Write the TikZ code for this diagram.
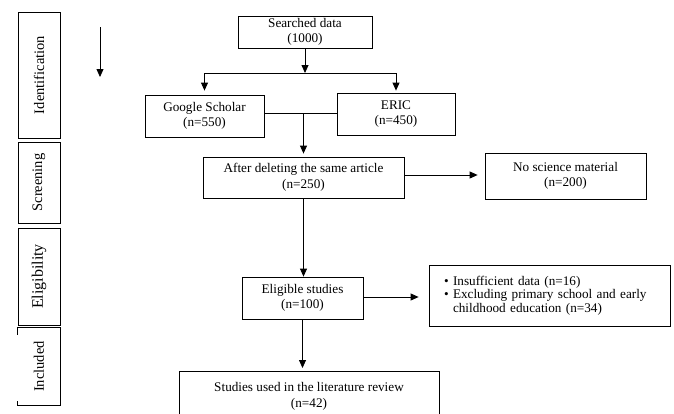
\documentclass[tikz,border=0pt]{standalone}
\usepackage{fontspec}
\setmainfont{Liberation Serif}
\usetikzlibrary{arrows.meta,positioning,calc}
\tikzset{
  stagebox/.style={draw,rectangle,line width=0.8pt,minimum width=42pt,inner sep=0pt,font=\fontsize{14.5}{15}\selectfont},
  flowbox/.style={draw,rectangle,line width=0.8pt,align=center,inner sep=0pt,font=\fontsize{13.2}{15.5}\selectfont},
  arr/.style={-{Triangle[length=8pt,width=7pt]},line width=0.8pt},
  ln/.style={line width=0.8pt}
}
\begin{document}
\begin{tikzpicture}[x=1pt,y=-1pt]
  \useasboundingbox (0,0) rectangle (674,413);
  \clip (0,0) rectangle (674,413);
  % Stage column
  \node[stagebox, minimum height=126pt] (ident) at (39,75) {\rotatebox{90}{Identification}};
  \node[stagebox, minimum height=81pt] (screen) at (39,182.5) {\rotatebox{90}{Screening}};
  \node[stagebox, minimum height=97pt, font=\fontsize{16}{17}\selectfont] (elig) at (39,276.5) {\rotatebox{90}{Eligibility}};
  \node[stagebox, draw=none, minimum height=77pt] (incl) at (39,366.5) {\rotatebox{90}{Included}};
  \draw[ln] ($(incl.north west)+(0,7)$) -- (incl.north west) -- (incl.north east)
    -- (incl.south east) -- (incl.south west) -- ++(0,-4);

  % Direction arrow
  \coordinate (dtop) at (100,27);
  \coordinate (dbot) at (100,77);
  \draw[arr] (dtop) -- (dbot);

  % Identification
  \node[flowbox, minimum width=134pt, minimum height=32pt] (search) at (305,32) {Searched data\\(1000)};
  \node[flowbox, minimum width=119pt, minimum height=42pt] (google) at (204.5,116) {Google Scholar\\(n=550)};
  \node[flowbox, minimum width=118pt, minimum height=42pt] (eric) at (396,114) {ERIC\\(n=450)};
  \coordinate (split) at (search.south |- 0,73);
  \coordinate (splitl) at (google.north |- split);
  \coordinate (splitr) at (eric.north |- split);
  \draw[arr] (search.south) -- (split);
  \draw[ln] (splitl) -- (splitr);
  \draw[arr, shorten >=4pt] (splitl) -- (google.north);
  \draw[arr, shorten >=2pt] (splitr) -- (eric.north);

  % Screening
  \node[flowbox, minimum width=201pt, minimum height=41pt] (after) at (303.5,177.5) {After deleting the same article\\(n=250)};
  \node[flowbox, minimum width=161pt, minimum height=46pt] (nosci) at (565.5,176) {No science material\\(n=200)};
  \coordinate (merge) at (after.north |- 0,113);
  \draw[ln] (google.east |- merge) -- (eric.west |- merge);
  \draw[arr, shorten >=3pt] (merge) -- (after.north);
  \draw[arr, shorten >=7pt] (after.east |- 0,175) -- (nosci.west |- 0,175);

  % Eligibility
  \node[flowbox, minimum width=121pt, minimum height=42pt] (eligst) at (302.5,298) {Eligible studies\\(n=100)};
  \node[draw, rectangle, line width=0.8pt, text width=211pt, inner xsep=15pt, inner ysep=0pt,
    minimum height=61pt, align=left, font=\fontsize{13.2}{13.6}\selectfont] (excl) at (549.5,295.5)
    {\textbullet\ Insufficient data (n=16)\\
     \textbullet\ Excluding primary school and early\\
     \phantom{\textbullet\ }childhood education (n=34)};
  \draw[arr] (after.south) -- (after.south |- eligst.north);
  \draw[arr, shorten >=10pt] (eligst.east |- 0,297) -- (excl.west |- 0,297);

  % Included
  \node[flowbox, minimum width=260pt, minimum height=50pt, anchor=north] (studies) at (309,371) {Studies used in the literature review\\(n=42)};
  \draw[arr, shorten >=3pt] (eligst.south) -- (eligst.south |- studies.north);
\end{tikzpicture}
\end{document}
